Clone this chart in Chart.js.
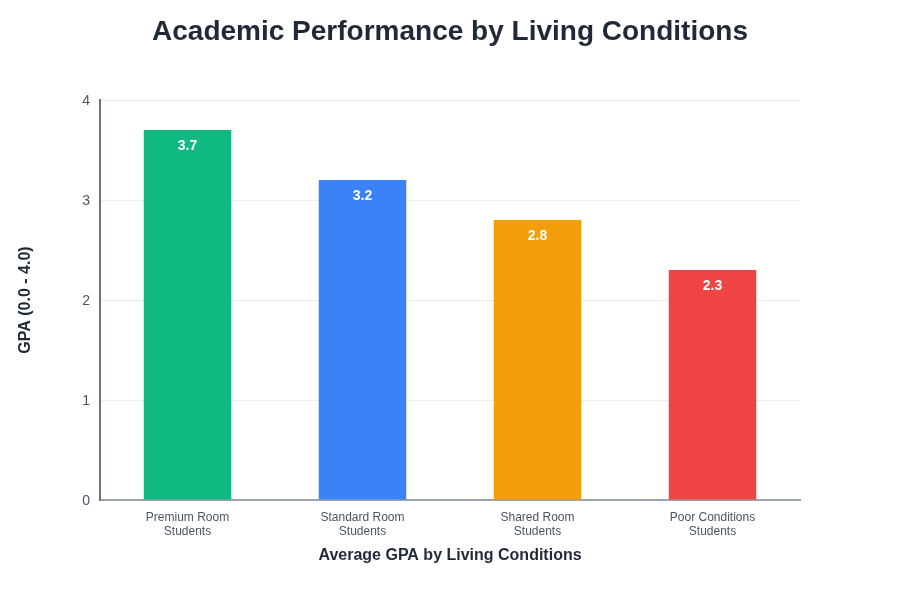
<!DOCTYPE html>
<html>
<head>
<meta charset="utf-8">
<script src="https://cdn.jsdelivr.net/npm/chart.js@4/dist/chart.umd.min.js"></script>
<style>
html,body{margin:0;padding:0;background:#fff;}
#wrap{width:900px;height:600px;}
</style>
</head>
<body>
<div id="wrap"><canvas id="c" width="900" height="600"></canvas></div>
<script>
const categories = [["Premium Room","Students"],["Standard Room","Students"],["Shared Room","Students"],["Poor Conditions","Students"]];
const gpaValues = [3.7, 3.2, 2.8, 2.3];
const barColors = ["#10b981","#3b82f6","#f59e0b","#ef4444"];
const yTicks = [0,1,2,3,4];

const FONT = "'Liberation Sans', Arial, Helvetica, sans-serif";

const valueLabels = {
  id: 'valueLabels',
  afterDatasetsDraw(chart) {
    const ctx = chart.ctx;
    const meta = chart.getDatasetMeta(0);
    ctx.save();
    ctx.font = "bold 14px " + FONT;
    ctx.fillStyle = "#ffffff";
    ctx.textAlign = "center";
    ctx.textBaseline = "middle";
    meta.data.forEach((bar, i) => {
      ctx.fillText(gpaValues[i].toFixed(1), bar.x, bar.y + 16.5);
    });
    ctx.restore();
  }
};

new Chart(document.getElementById('c'), {
  type: 'bar',
  data: {
    labels: categories,
    datasets: [{
      data: gpaValues,
      backgroundColor: barColors,
      borderWidth: 0,
      barPercentage: 0.5,
      categoryPercentage: 1.0
    }]
  },
  options: {
    responsive: false,
    animation: false,
    devicePixelRatio: 1,
    layout: { padding: 0 },
    plugins: {
      legend: { display: false },
      tooltip: { enabled: false },
      title: {
        display: true,
        text: "Academic Performance by Living Conditions",
        color: "#1f2937",
        font: { family: FONT, size: 28, weight: 'bold', lineHeight: 1.2 },
        padding: { top: 15.5, bottom: 50.9 }
      }
    },
    scales: {
      x: {
        grid: { display: false, drawTicks: false },
        border: { display: true, color: "#9ca3af", width: 2 },
        ticks: { color: "#4b5563", font: { family: FONT, size: 12, lineHeight: 1.2 }, padding: 10, maxRotation: 0 },
        title: {
          display: true,
          text: "Average GPA by Living Conditions",
          color: "#1f2937",
          font: { family: FONT, size: 16, weight: 'bold', lineHeight: 1.2 },
          padding: { top: 7, bottom: 35 }
        },
        afterFit(scale) { scale.height = 100; }
      },
      y: {
        min: 0, max: 4,
        afterBuildTicks(scale) { scale.ticks = yTicks.map(v => ({ value: v })); },
        grid: { color: "#eeeeee", lineWidth: 1, drawTicks: false },
        border: { display: true, color: "#6b7280", width: 2 },
        ticks: { color: "#4b5563", font: { family: FONT, size: 14 }, padding: 10, labelOffset: 1 },
        title: {
          display: true,
          text: "GPA (0.0 - 4.0)",
          color: "#1f2937",
          font: { family: FONT, size: 16, weight: 'bold', lineHeight: 1.2 },
          padding: { top: 15.5, bottom: 0 }
        },
        afterFit(scale) { scale.width = 100; }
      },
      yRight: {
        position: 'right',
        min: 0, max: 4,
        grid: { display: false, drawTicks: false },
        border: { display: false },
        ticks: { display: false },
        afterFit(scale) { scale.width = 100; }
      }
    }
  },
  plugins: [valueLabels]
});
</script>
</body>
</html>
